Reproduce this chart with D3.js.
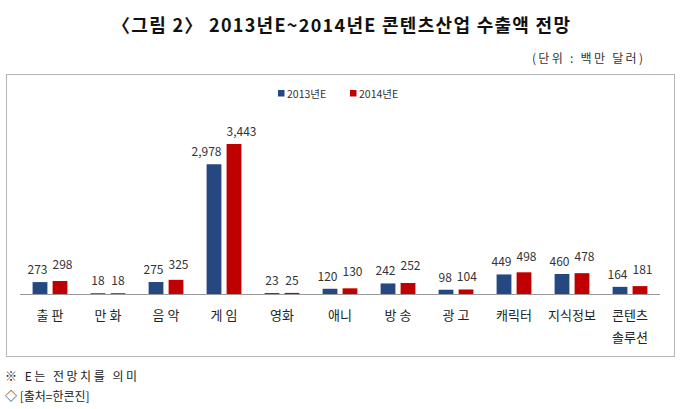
<!DOCTYPE html>
<html>
<head>
<meta charset="utf-8">
<script src="https://cdn.jsdelivr.net/npm/d3@7"></script>
<style>
  body { margin: 0; background: #fff; }
  text { font-family: "Noto Sans CJK KR", "Noto Sans", sans-serif; }
</style>
</head>
<body>
<div id="container"></div>
<script>
/* DATA */
const categories = ["출 판", "만 화", "음 악", "게 임", "영화", "애니", "방 송", "광 고", "캐릭터", "지식정보", "콘텐츠|솔루션"];
const series = ["2013년E", "2014년E"];
const values2013 = [273, 18, 275, 2978, 23, 120, 242, 98, 449, 460, 164];
const values2014 = [298, 18, 325, 3443, 25, 130, 252, 104, 498, 478, 181];
const colors = ["#24487F", "#C00000"];

/* CONSTANTS */
const width = 680, height = 409;
const plot = { left: 21, right: 659, baseline: 294 };

const svg = d3.select("#container")
  .append("svg")
  .attr("width", width)
  .attr("height", height);

// TITLE
svg.append("text")
  .attr("x", 341)
  .attr("y", 32)
  .attr("text-anchor", "middle")
  .attr("font-size", 18)
  .attr("font-weight", "bold")
  .attr("fill", "#111")
  .attr("textLength", 458)
  .attr("lengthAdjust", "spacing")
  .text("〈그림 2〉 2013년E~2014년E 콘텐츠산업 수출액 전망");

svg.append("text")
  .attr("x", 643)
  .attr("y", 63)
  .attr("text-anchor", "end")
  .attr("font-size", 12)
  .attr("fill", "#333")
  .attr("textLength", 111)
  .attr("lengthAdjust", "spacing")
  .text("(단위 : 백만 달러)");

// CHART BOX
svg.append("rect")
  .attr("x", 6.5)
  .attr("y", 74.5)
  .attr("width", 668)
  .attr("height", 282)
  .attr("fill", "none")
  .attr("stroke", "#b5b5b5")
  .attr("stroke-width", 1);

// LEGEND
const legend = svg.append("g");
const legendX = [278, 350];
series.forEach((s, i) => {
  legend.append("rect")
    .attr("x", legendX[i])
    .attr("y", 90)
    .attr("width", 6.5)
    .attr("height", 6.5)
    .attr("fill", colors[i]);
  legend.append("text")
    .attr("x", legendX[i] + 9)
    .attr("y", 97.5)
    .attr("font-size", 10.5)
    .attr("fill", "#333")
    .text(s);
});

// SCALES
const x0 = d3.scaleBand()
  .domain(categories)
  .range([plot.left, plot.right]);

const bw = x0.bandwidth();
const x1 = d3.scaleBand()
  .domain(series)
  .range([bw * 0.2, bw * 0.8])
  .paddingInner(0.26);

const y = d3.scaleLinear()
  .domain([0, 3443])
  .range([plot.baseline, 144]);

const rows = categories.map((c, i) => ({ cat: c, vals: [values2013[i], values2014[i]] }));

const groups = svg.selectAll("g.cat")
  .data(rows)
  .join("g")
  .attr("class", "cat")
  .attr("transform", d => `translate(${x0(d.cat)},0)`);

groups.selectAll("rect")
  .data(d => d.vals.map((v, i) => ({ v, i })))
  .join("rect")
  .attr("x", d => x1(series[d.i]))
  .attr("y", d => y(d.v))
  .attr("width", x1.bandwidth())
  .attr("height", d => plot.baseline - y(d.v))
  .attr("fill", d => colors[d.i]);

// VALUE LABELS (pushed apart / lifted when they would collide, like Excel does)
const fmt = d3.format(",");
groups.each(function(d) {
  const g = d3.select(this);
  const yb = y(d.vals[0]) - 8;
  let yr = y(d.vals[1]) - 8;
  if (fmt(d.vals[0]).length > 2) yr = Math.min(yr, yb - 5);
  const labels = [yb, yr].map((ly, i) => g.append("text")
    .attr("x", x1(series[i]) + x1.bandwidth() / 2)
    .attr("y", ly)
    .attr("text-anchor", "middle")
    .attr("font-family", "'Open Sans', 'Noto Sans', sans-serif")
    .attr("font-size", 12)
    .attr("fill", "#333")
    .text(fmt(d.vals[i])));
  const wb = labels[0].node().getComputedTextLength();
  const wr = labels[1].node().getComputedTextLength();
  const need = (wb + wr) / 2 + 5;
  const shift = Math.max(0, (need - x1.step()) / 2);
  labels[0].attr("x", x1(series[0]) + x1.bandwidth() / 2 - shift);
  labels[1].attr("x", x1(series[1]) + x1.bandwidth() / 2 + shift);
});

// BASELINE
svg.append("line")
  .attr("x1", plot.left - 1)
  .attr("x2", plot.right + 1)
  .attr("y1", plot.baseline + 0.5)
  .attr("y2", plot.baseline + 0.5)
  .attr("stroke", "#999")
  .attr("stroke-width", 1);

// CATEGORY LABELS
groups.append("text")
  .attr("x", bw / 2)
  .attr("y", 320)
  .attr("text-anchor", "middle")
  .attr("font-size", 13)
  .attr("fill", "#222")
  .selectAll("tspan")
  .data(d => d.cat.split("|"))
  .join("tspan")
  .attr("x", bw / 2)
  .attr("dy", (d, i) => i === 0 ? 0 : 22)
  .text(d => d);

// FOOTNOTES
svg.append("text")
  .attr("x", 5)
  .attr("y", 381)
  .attr("font-size", 12)
  .attr("fill", "#222")
  .attr("textLength", 132)
  .attr("lengthAdjust", "spacing")
  .text("※ E는 전망치를 의미");

svg.append("text")
  .attr("x", 5)
  .attr("y", 401)
  .attr("font-size", 12)
  .attr("fill", "#222")
  .text("◇ [출처=한콘진]");
</script>
</body>
</html>
